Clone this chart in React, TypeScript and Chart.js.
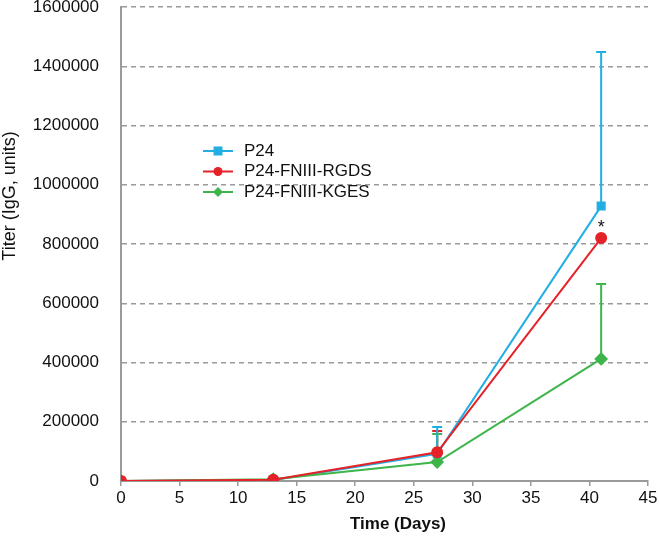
import React, { useEffect, useRef } from "react";
import { Chart, registerables } from "chart.js";

Chart.register(...registerables);

const days = [0, 13, 27, 41];
const seriesNames = ["P24", "P24-FNIII-RGDS", "P24-FNIII-KGES"];
const p24Values = [0, 3000, 92000, 928000];
const rgdsValues = [0, 4000, 97000, 820000];
const kgesValues = [0, 6000, 64000, 412000];
const p24Upper = [0, 6000, 182000, 1448000];
const rgdsUpper = [0, 7000, 169000, 822000];
const kgesUpper = [0, 9000, 159000, 665000];
const xTicks = [0, 5, 10, 15, 20, 25, 30, 35, 40, 45];
const yTicks = [0, 200000, 400000, 600000, 800000, 1000000, 1200000, 1400000, 1600000];
const yTitle = "Titer (IgG, units)";
const xTitle = "Time (Days)";

const BLUE = "#22aee2";
const RED = "#e52228";
const GREEN = "#3db54a";
const GRAY = "#9a9a9a";
const FONT = "'Liberation Sans', Arial, sans-serif";

const errorBarPlugin = {
  id: "errorBars",
  beforeDatasetsDraw(chart: any) {
    const ctx = chart.ctx;
    const yScale = chart.scales.y;
    chart.data.datasets.forEach((ds: any, i: number) => {
      const meta = chart.getDatasetMeta(i);
      const uppers: number[] = ds.upper;
      meta.data.forEach((pt: any, j: number) => {
        const up = uppers[j];
        if (up == null || up <= ds.data[j].y) return;
        const yTop = yScale.getPixelForValue(up);
        ctx.save();
        ctx.strokeStyle = ds.borderColor;
        ctx.lineWidth = 2;
        ctx.beginPath();
        ctx.moveTo(pt.x, pt.y);
        ctx.lineTo(pt.x, yTop);
        ctx.moveTo(pt.x - 5, yTop);
        ctx.lineTo(pt.x + 5, yTop);
        ctx.stroke();
        ctx.restore();
      });
    });
  },
};

const annotationPlugin = {
  id: "annot",
  afterDraw(chart: any) {
    const ctx = chart.ctx;
    const xs = chart.scales.x;
    const ys = chart.scales.y;
    ctx.save();
    ctx.fillStyle = "#111";
    ctx.font = `18px ${FONT}`;
    ctx.textAlign = "center";
    ctx.textBaseline = "middle";
    ctx.fillText("*", xs.getPixelForValue(days[3]), ys.getPixelForValue(rgdsValues[3]) - 10);
    ctx.restore();

    // y-axis title
    ctx.save();
    ctx.translate(10, 196);
    ctx.rotate(-Math.PI / 2);
    ctx.fillStyle = "#111";
    ctx.font = `18px ${FONT}`;
    ctx.textAlign = "center";
    ctx.textBaseline = "middle";
    ctx.fillText(yTitle, 0, 0);
    ctx.restore();

    // x-axis title
    ctx.save();
    ctx.fillStyle = "#111";
    ctx.font = `bold 17px ${FONT}`;
    ctx.textAlign = "center";
    ctx.textBaseline = "middle";
    ctx.fillText(xTitle, 398, 524);
    ctx.restore();

    const colors = [BLUE, RED, GREEN];
    const styles = ["rect", "circle", "rectRot"];
    const x0 = 203;
    const y0 = 151;
    ctx.save();
    colors.forEach((c, i) => {
      const y = y0 + i * 20.5;
      ctx.strokeStyle = c;
      ctx.lineWidth = 2;
      ctx.beginPath();
      ctx.moveTo(x0, y);
      ctx.lineTo(x0 + 30, y);
      ctx.stroke();
      ctx.fillStyle = c;
      const mx = x0 + 15;
      if (styles[i] === "rect") {
        ctx.fillRect(mx - 4.5, y - 4.5, 9, 9);
      } else if (styles[i] === "circle") {
        ctx.beginPath();
        ctx.arc(mx, y, 4.5, 0, Math.PI * 2);
        ctx.fill();
      } else {
        ctx.beginPath();
        ctx.moveTo(mx, y - 5);
        ctx.lineTo(mx + 5, y);
        ctx.lineTo(mx, y + 5);
        ctx.lineTo(mx - 5, y);
        ctx.closePath();
        ctx.fill();
      }
      ctx.fillStyle = "#111";
      ctx.font = `17px ${FONT}`;
      ctx.textAlign = "left";
      ctx.textBaseline = "middle";
      ctx.fillText(seriesNames[i], x0 + 41, y);
    });
    ctx.restore();
  },
};

export default function App() {
  const ref = useRef<HTMLCanvasElement>(null);
  useEffect(() => {
    if (!ref.current) return;
    const mk = (vals: number[]) => days.map((d, i) => ({ x: d, y: vals[i] }));
    const chart = new Chart(ref.current, {
      type: "line",
      data: {
        datasets: [
          {
            label: seriesNames[1],
            data: mk(rgdsValues),
            upper: rgdsUpper,
            borderColor: RED,
            backgroundColor: RED,
            pointStyle: "circle",
            pointRadius: 5,
            borderWidth: 2,
            order: 0,
          } as any,
          {
            label: seriesNames[2],
            data: mk(kgesValues),
            upper: kgesUpper,
            borderColor: GREEN,
            backgroundColor: GREEN,
            pointStyle: "rectRot",
            pointRadius: 5.5,
            borderWidth: 2,
            order: 1,
          } as any,
          {
            label: seriesNames[0],
            data: mk(p24Values),
            upper: p24Upper,
            borderColor: BLUE,
            backgroundColor: BLUE,
            pointStyle: "rect",
            pointRadius: 5,
            borderWidth: 2,
            order: 2,
          } as any,
        ],
      },
      options: {
        responsive: false,
        animation: false,
        layout: { autoPadding: false, padding: { top: 7, right: 12, left: 0, bottom: 0 } },
        plugins: {
          legend: { display: false },
          tooltip: { enabled: false },
        },
        elements: { line: { tension: 0 }, point: { borderWidth: 0 } },
        scales: {
          x: {
            type: "linear",
            min: 0,
            max: 45,
            afterBuildTicks: (s: any) => {
              s.ticks = xTicks.map((v) => ({ value: v }));
            },
            afterFit: (s: any) => {
              s.height = 57;
              s.paddingLeft = 0;
              s.paddingRight = 0;
            },
            ticks: {
              color: "#111",
              font: { family: FONT, size: 17 },
              padding: 2,
              maxRotation: 0,
              autoSkip: false,
              callback: (v: any) => String(v),
            },
            grid: {
              drawOnChartArea: false,
              drawTicks: true,
              tickLength: 5,
              color: GRAY,
              lineWidth: 1.5,
            },
            border: { display: true, color: GRAY, width: 2 },
            title: { display: false },
          },
          y: {
            type: "linear",
            min: 0,
            max: 1600000,
            afterBuildTicks: (s: any) => {
              s.ticks = yTicks.map((v) => ({ value: v }));
            },
            afterFit: (s: any) => {
              s.width = 121;
              s.paddingTop = 0;
              s.paddingBottom = 0;
            },
            ticks: {
              color: "#111",
              font: { family: FONT, size: 17 },
              padding: 22,
              autoSkip: false,
              callback: (v: any) => String(v),
            },
            grid: {
              drawTicks: false,
              color: (c: any) => (c.tick && c.tick.value === 0 ? "rgba(0,0,0,0)" : GRAY),
              lineWidth: 1.5,
            },
            border: { display: true, color: GRAY, width: 2, dash: [5, 4] },
            title: { display: false },
          },
        },
      } as any,
      plugins: [errorBarPlugin, annotationPlugin],
    });
    return () => chart.destroy();
  }, []);
  return (
    <div style={{ position: "fixed", left: 0, top: 0, width: 660, height: 538, background: "#fff" }}>
      <canvas ref={ref} width={660} height={538} />
    </div>
  );
}
